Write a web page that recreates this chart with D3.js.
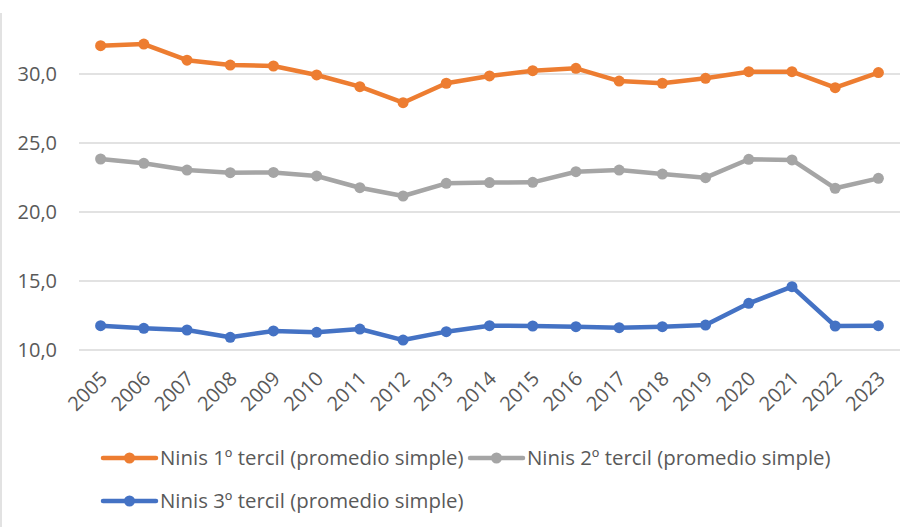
<!DOCTYPE html>
<html>
<head>
<meta charset="utf-8">
<script src="https://cdn.jsdelivr.net/npm/d3@7"></script>
<style>
  body { margin: 0; background: #fff; }
  text { font-family: "Open Sans", "Liberation Sans", Arial, sans-serif; fill: #595959; }
</style>
</head>
<body>
<div id="chart"></div>
<script>
// Data
var years = ["2005", "2006", "2007", "2008", "2009", "2010", "2011", "2012", "2013", "2014",
  "2015", "2016", "2017", "2018", "2019", "2020", "2021", "2022", "2023"];
var tercil1 = [32.05, 32.17, 31.0, 30.65, 30.58, 29.93, 29.08, 27.92, 29.33, 29.86,
  30.24, 30.41, 29.49, 29.33, 29.69, 30.17, 30.17, 29.01, 30.1];
var tercil2 = [23.84, 23.53, 23.04, 22.85, 22.87, 22.61, 21.76, 21.16, 22.08, 22.13,
  22.15, 22.92, 23.04, 22.75, 22.49, 23.82, 23.77, 21.72, 22.44];
var tercil3 = [11.76, 11.57, 11.45, 10.92, 11.38, 11.28, 11.52, 10.72, 11.33, 11.76,
  11.74, 11.69, 11.62, 11.69, 11.81, 13.38, 14.59, 11.74, 11.76];
var yTicks = [10, 15, 20, 25, 30];
var seriesNames = ["Ninis 1º tercil (promedio simple)", "Ninis 2º tercil (promedio simple)",
  "Ninis 3º tercil (promedio simple)"];
var seriesColors = ["#ED7D31", "#A5A5A5", "#4472C4"];

// Chart set up
var svgWidth = 920;
var svgHeight = 527;
var plot = { left: 79, right: 900, top: 5, bottom: 350 };

var svg = d3.select("#chart")
  .append("svg")
  .attr("width", svgWidth)
  .attr("height", svgHeight);

// left border
svg.append("line")
  .attr("x1", 1).attr("x2", 1)
  .attr("y1", 13).attr("y2", svgHeight)
  .attr("stroke", "#d9d9d9")
  .attr("stroke-width", 1.5);

var x = d3.scaleBand()
  .domain(years)
  .range([plot.left, plot.right]);

var y = d3.scaleLinear()
  .domain([10, 35])
  .range([plot.bottom, plot.top]);

// gridlines
svg.append("g")
  .selectAll("line")
  .data(yTicks)
  .enter()
  .append("line")
  .attr("x1", plot.left)
  .attr("x2", plot.right)
  .attr("y1", d => y(d))
  .attr("y2", d => y(d))
  .attr("stroke", "#d9d9d9")
  .attr("stroke-width", 1.5);

// y axis labels
var yAxis = d3.axisLeft(y)
  .tickValues(yTicks)
  .tickSize(0)
  .tickPadding(0)
  .tickFormat(d => d3.format(".1f")(d).replace(".", ","));

svg.append("g")
  .attr("transform", "translate(57,0)")
  .call(yAxis)
  .call(g => g.select(".domain").remove())
  .selectAll("text")
  .attr("font-size", "20px")
  .attr("font-family", null)
  .attr("fill", "#595959");

// x axis labels
var xAxis = d3.axisBottom(x).tickSize(0).tickPadding(0);

svg.append("g")
  .attr("transform", `translate(0,${plot.bottom})`)
  .call(xAxis)
  .call(g => g.select(".domain").remove())
  .selectAll("text")
  .attr("font-size", "20px")
  .attr("font-family", null)
  .attr("fill", "#595959")
  .attr("text-anchor", "end")
  .attr("dy", null)
  .attr("y", 0)
  .attr("transform", "translate(8,30) rotate(-45)");

// lines
var line = d3.line()
  .x((d, i) => x(years[i]) + x.bandwidth() / 2)
  .y(d => y(d));

var allSeries = [tercil1, tercil2, tercil3];

allSeries.forEach(function(values, k) {
  svg.append("path")
    .datum(values)
    .attr("fill", "none")
    .attr("stroke", seriesColors[k])
    .attr("stroke-width", 4.5)
    .attr("stroke-linejoin", "round")
    .attr("d", line);

  svg.append("g")
    .selectAll("circle")
    .data(values)
    .enter()
    .append("circle")
    .attr("cx", (d, i) => x(years[i]) + x.bandwidth() / 2)
    .attr("cy", d => y(d))
    .attr("r", 5.5)
    .attr("fill", seriesColors[k]);
});

// legend
var legendPos = [[103, 458], [470, 458], [103, 501]];

legendPos.forEach(function(p, k) {
  var g = svg.append("g").attr("transform", `translate(${p[0]},${p[1]})`);
  g.append("line")
    .attr("x1", 0).attr("x2", 53)
    .attr("stroke", seriesColors[k])
    .attr("stroke-width", 4.5)
    .attr("stroke-linecap", "round");
  g.append("circle")
    .attr("cx", 26.5)
    .attr("r", 5.5)
    .attr("fill", seriesColors[k]);
  g.append("text")
    .attr("x", 57)
    .attr("y", 7)
    .attr("font-size", "20.4px")
    .text(seriesNames[k]);
});
</script>
</body>
</html>
